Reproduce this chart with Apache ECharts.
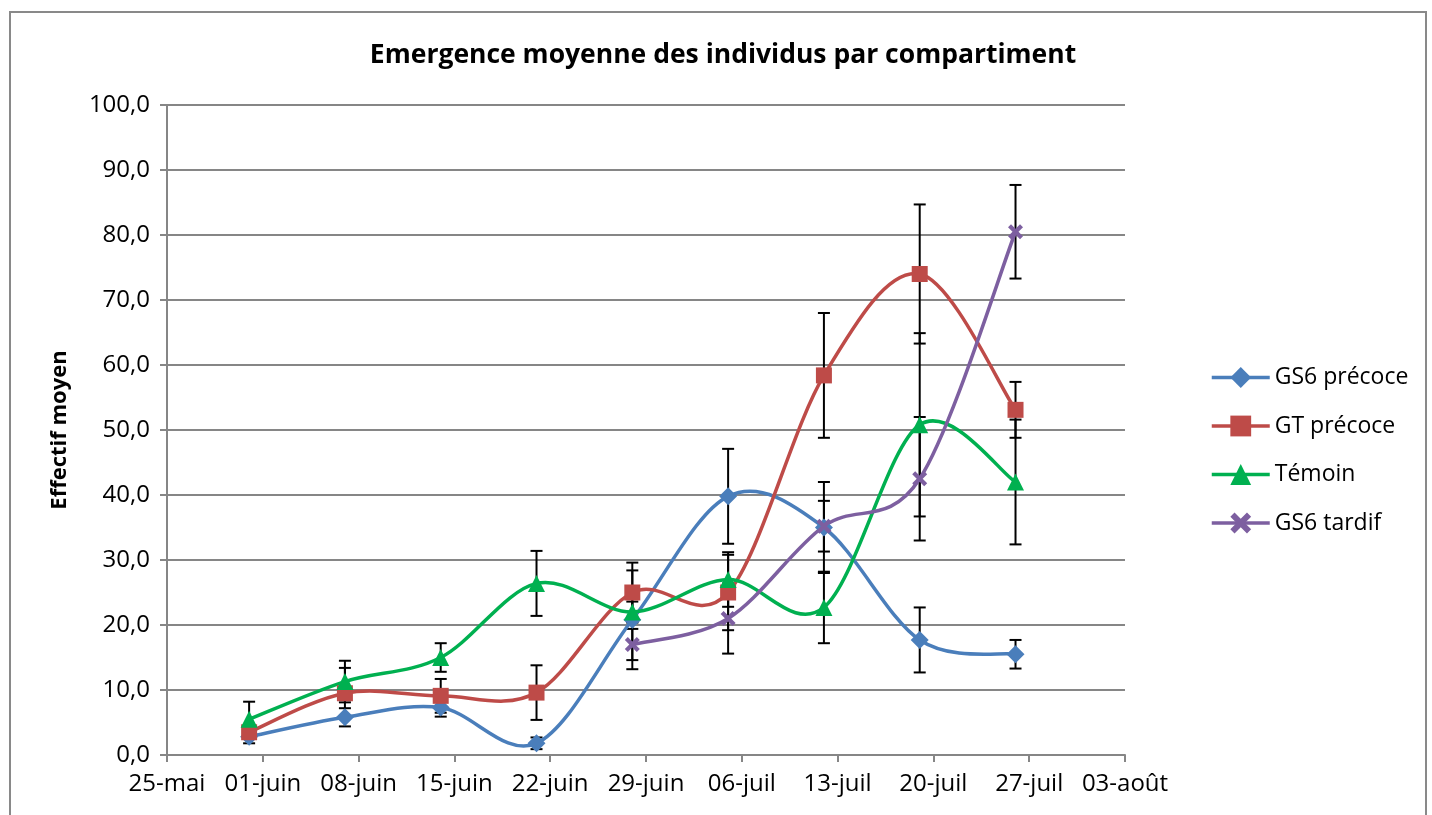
<!DOCTYPE html>
<html>
<head>
<meta charset="utf-8">
<script src="https://cdn.jsdelivr.net/npm/echarts@6/dist/echarts.min.js"></script>
<style>
html,body{margin:0;padding:0;background:#fff;}
#chart{width:1432px;height:815px;}
</style>
</head>
<body>
<div id="chart"></div>
<script>
// Day offsets from 25-mai
const xTickLabels = ['25-mai','01-juin','08-juin','15-juin','22-juin','29-juin','06-juil','13-juil','20-juil','27-juil','03-août'];
const sampleDays = [6, 13, 20, 27, 34, 41, 48, 55, 62]; // 31-mai ... 26-juil
const seriesNames = ['GS6 précoce', 'GT précoce', 'Témoin', 'GS6 tardif'];

const gs6Precoce = [2.8, 5.8, 7.3, 1.8, 20.8, 39.8, 35.0, 17.7, 15.5];
const gtPrecoce  = [3.5, 9.5, 9.1, 9.6, 25.0, 25.0, 58.4, 74.0, 53.1];
const temoin     = [5.5, 11.3, 15.0, 26.4, 22.0, 27.0, 22.7, 50.8, 42.0];
const gs6Tardif  = [null, null, null, null, 17.0, 21.0, 35.2, 42.5, 80.5];

const gs6PrecoceErr = [1.0, 1.4, 1.4, 0.9, 7.6, 7.3, 7.0, 5.0, 2.2];
const gtPrecoceErr  = [1.0, 3.9, 2.6, 4.2, 4.6, 5.8, 9.6, 10.7, 4.3];
const temoinErr     = [2.7, 3.2, 2.2, 5.0, 1.6, 4.2, 5.5, 14.1, 9.6];
const gs6TardifErr  = [null, null, null, null, 2.4, 5.4, 3.9, 9.5, 7.2];

const colors = ['#4A7EBB', '#BE4B48', '#00B050', '#7D5FA0'];
const xSymbol = 'path://M0,2 L2,0 L5,3 L8,0 L10,2 L7,5 L10,8 L8,10 L5,7 L2,10 L0,8 L3,5 Z';
const symbols = ['diamond', 'rect', 'triangle', xSymbol];
const symbolSizes = [18, 16, 17, 15];

const values = [gs6Precoce, gtPrecoce, temoin, gs6Tardif];
const errs = [gs6PrecoceErr, gtPrecoceErr, temoinErr, gs6TardifErr];

const FONT = '"Open Sans", "Liberation Sans", sans-serif';

function pairs(v) {
  const out = [];
  for (let i = 0; i < sampleDays.length; i++) if (v[i] != null) out.push([sampleDays[i], v[i]]);
  return out;
}
function errData(v, e) {
  const out = [];
  for (let i = 0; i < sampleDays.length; i++) if (v[i] != null) out.push([sampleDays[i], v[i] - e[i], v[i] + e[i]]);
  return out;
}

const series = [];
// error bars
for (let s = 0; s < 4; s++) {
  series.push({
    type: 'custom',
    name: seriesNames[s] + ' err',
    z: 1,
    silent: true,
    data: errData(values[s], errs[s]),
    renderItem: function (params, api) {
      const lo = api.coord([api.value(0), api.value(1)]);
      const hi = api.coord([api.value(0), api.value(2)]);
      const w = 6;
      const st = { stroke: '#000', lineWidth: 2 };
      return {
        type: 'group',
        children: [
          { type: 'line', shape: { x1: lo[0], y1: lo[1], x2: hi[0], y2: hi[1] }, style: st },
          { type: 'line', shape: { x1: lo[0] - w, y1: lo[1], x2: lo[0] + w, y2: lo[1] }, style: st },
          { type: 'line', shape: { x1: hi[0] - w, y1: hi[1], x2: hi[0] + w, y2: hi[1] }, style: st }
        ]
      };
    }
  });
}
// smoothed curves (Catmull-Rom / Bezier, like the spreadsheet smoothing), built from the data via api.coord
for (let s = 0; s < 4; s++) {
  const pts = pairs(values[s]);
  const col = colors[s];
  series.push({
    type: 'custom',
    name: seriesNames[s] + ' curve',
    z: 2,
    silent: true,
    data: pts,
    renderItem: function (params, api) {
      if (params.dataIndex !== 0) return null;
      const P = pts.map(p => api.coord(p));
      const n = P.length;
      const children = [];
      for (let i = 0; i < n - 1; i++) {
        const p0 = P[Math.max(i - 1, 0)], p1 = P[i], p2 = P[i + 1], p3 = P[Math.min(i + 2, n - 1)];
        children.push({
          type: 'bezierCurve',
          shape: {
            x1: p1[0], y1: p1[1], x2: p2[0], y2: p2[1],
            cpx1: p1[0] + (p2[0] - p0[0]) / 6, cpy1: p1[1] + (p2[1] - p0[1]) / 6,
            cpx2: p2[0] - (p3[0] - p1[0]) / 6, cpy2: p2[1] - (p3[1] - p1[1]) / 6
          },
          style: { stroke: col, lineWidth: 3.5, fill: 'none', lineCap: 'round' }
        });
      }
      return { type: 'group', children: children };
    }
  });
}
// markers
for (let s = 0; s < 4; s++) {
  series.push({
    type: 'line',
    name: seriesNames[s],
    z: 3,
    data: pairs(values[s]),
    symbol: symbols[s],
    symbolSize: symbolSizes[s],
    showAllSymbol: true,
    lineStyle: { color: colors[s], width: 3.5, opacity: 0 },
    itemStyle: { color: colors[s], borderColor: colors[s], borderWidth: 0 },
    emphasis: { disabled: true }
  });
}

const chart = echarts.init(document.getElementById('chart'), null, { renderer: 'canvas' });
chart.setOption({
  animation: false,
  backgroundColor: '#fff',
  graphic: [{
    type: 'rect',
    shape: { x: 10, y: 12, width: 1416, height: 830 },
    style: { fill: 'none', stroke: '#898989', lineWidth: 2 },
    silent: true, z: -10
  }],
  title: {
    text: 'Emergence moyenne des individus par compartiment',
    left: 718, top: 37, textAlign: 'center',
    textStyle: { fontFamily: FONT, fontWeight: 'bold', fontSize: 26.5, color: '#000' }
  },
  legend: {
    data: seriesNames.map((n, i) => ({
      name: n,
      lineStyle: { color: colors[i], width: 3.5, opacity: 1 },
      itemStyle: { color: colors[i] }
    })),
    orient: 'vertical',
    left: 1205, top: 361,
    itemWidth: 58, itemHeight: 26, itemGap: 25.5,
    textStyle: { fontFamily: FONT, fontSize: 23, color: '#000' }
  },
  grid: { left: 167, right: 307, top: 105, bottom: 60, containLabel: false },
  xAxis: {
    type: 'value', min: 0, max: 70, interval: 7,
    axisLine: { show: true, lineStyle: { color: '#868686', width: 2 } },
    axisTick: { show: true, length: 7, lineStyle: { color: '#868686', width: 2 } },
    splitLine: { show: false },
    axisLabel: {
      margin: 17, fontFamily: FONT, fontSize: 24, color: '#000',
      formatter: function (v) { return xTickLabels[Math.round(v / 7)]; }
    }
  },
  yAxis: {
    type: 'value', min: 0, max: 100, interval: 10,
    name: 'Effectif moyen', nameLocation: 'middle', nameGap: 96, nameRotate: 90,
    nameTextStyle: { fontFamily: FONT, fontWeight: 'bold', fontSize: 22, color: '#000' },
    axisLine: { show: true, lineStyle: { color: '#868686', width: 2 } },
    axisTick: { show: true, length: 7, lineStyle: { color: '#868686', width: 2 } },
    splitLine: { show: true, lineStyle: { color: '#868686', width: 2 } },
    axisLabel: {
      margin: 17, fontFamily: FONT, fontSize: 24, color: '#000',
      formatter: function (v) { return v.toFixed(1).replace('.', ','); }
    }
  },
  series: series
});
</script>
</body>
</html>
